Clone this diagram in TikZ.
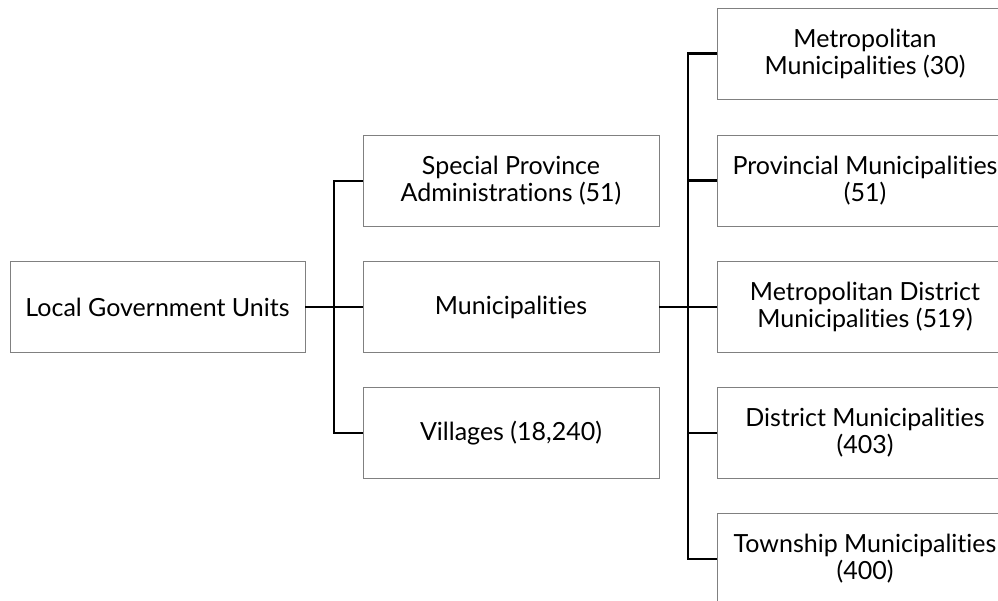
\documentclass[tikz,border=0pt]{standalone}
\usepackage{fontspec}
\setmainfont[Ligatures=NoCommon]{Lato}
\usetikzlibrary{calc}
\begin{document}
\begin{tikzpicture}[x=1pt,y=-1pt,
  box/.style={draw=black!50, line width=0.9pt, fill=white, minimum width=296pt, minimum height=91pt,
    align=center, inner sep=0pt, font=\fontsize{25}{27}\selectfont, text=black},
  conn/.style={draw=black, line width=2.6pt}]
\useasboundingbox (0,0) rectangle (998,601);
\clip (0,0) rectangle (998,601);
\node[box, minimum width=295pt] (lgu) at (157.5,307) {Local Government Units};
\node[box] (m1) at (511,181) {Special Province\\Administrations (51)};
\node[box] (m2) at (511,307) {Municipalities};
\node[box] (m3) at (511,433) {Villages (18,240)};
\node[box] (r1) at (865,53.5) {Metropolitan\\Municipalities (30)};
\node[box] (r2) at (865,180.5) {Provincial Municipalities\\(51)};
\node[box] (r3) at (865,307) {Metropolitan District\\Municipalities (519)};
\node[box] (r4) at (865,433) {District Municipalities\\(403)};
\node[box] (r5) at (865,559) {Township Municipalities\\(400)};
\coordinate (bl) at ($(lgu.east)!0.5!(m2.west)$);
\coordinate (br) at ($(m2.east)!0.5!(r3.west)$);
\draw[conn] (lgu.east) -- (m2.west);
\draw[conn] (m1.west) -| (bl) |- (m3.west);
\draw[conn] (m2.east) -- (r3.west);
\draw[conn] (r1.west) -| (br) |- (r5.west);
\draw[conn] (br) |- (r2.west);
\draw[conn] (br) |- (r4.west);
\end{tikzpicture}
\end{document}
